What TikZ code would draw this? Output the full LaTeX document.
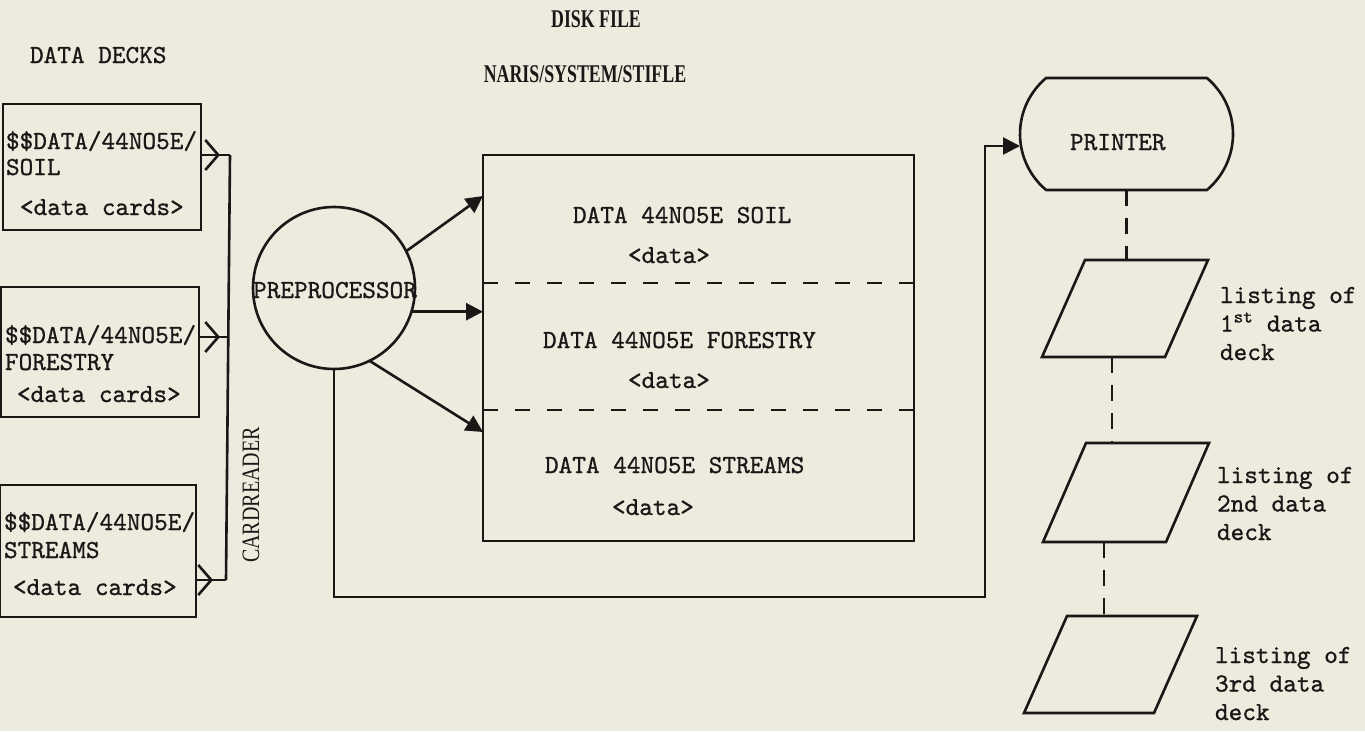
\documentclass[tikz,border=0pt]{standalone}
\usepackage{fontspec}
\usepackage{graphicx}
\usetikzlibrary{arrows.meta,shapes.geometric,shapes.misc}
\newfontfamily\hdrfont{Liberation Serif}
\newfontfamily\typer{lmmono10-regular}[Extension=.otf,FakeBold=0.9]
\definecolor{paper}{RGB}{236,235,222}
\definecolor{ink}{RGB}{28,22,22}
\newcommand\hdrtext[1]{\scalebox{0.7}[1]{\fontsize{25.5}{25.5}\selectfont\hdrfont\bfseries #1}}
\begin{document}
\begin{tikzpicture}[x=1pt,y=-1pt,
  every node/.style={inner sep=0pt,outer sep=0pt,text=ink},
  ln/.style={line width=2.6pt,draw=ink,line join=miter},
  tt/.style={font=\fontsize{26}{28.5}\selectfont\typer},
  lbl/.style={tt,anchor=base west},
  deck/.style={ln,draw,rectangle,minimum width=198pt,minimum height=126pt},
  tri/.style={-{Triangle[length=17pt,width=17pt]}},
  barb/.style={-{Straight Barb[length=13pt,width=30pt]}},
  divline/.style={line width=2.4pt,draw=ink,dash pattern=on 15pt off 17pt},
  vdash/.style={line width=2.4pt,draw=ink,dash pattern=on 16pt off 12pt},
  listing/.style={rectangle,minimum height=97pt,minimum width=166pt},
]
\fill[paper] (0,0) rectangle (1365,731);
\useasboundingbox (0,0) rectangle (1365,731);

% headers
\node[anchor=base] (dfile) at (596,27) {\hdrtext{DISK FILE}};
\node[anchor=base] (naris) at (585,82) {\hdrtext{NARIS/SYSTEM/STIFLE}};
\node[lbl] (decks) at (30,63) {DATA DECKS};

% data decks
\node[deck] (b1) at (102,167) {};
\node[deck,minimum height=130pt] (b2) at (100,352) {};
\node[deck,minimum width=196pt,minimum height=132pt] (b3) at (98,551) {};
\node[lbl] (b1a) at (6,149) {\$\$DATA/44NO5E/};
\node[lbl] (b1b) at (6,175) {SOIL};
\node[lbl] (b1c) at (20,215) {<data cards>};
\node[lbl] (b2a) at (5,343) {\$\$DATA/44NO5E/};
\node[lbl] (b2b) at (5,370) {FORESTRY};
\node[lbl] (b2c) at (17,402) {<data cards>};
\node[lbl] (b3a) at (4,530) {\$\$DATA/44NO5E/};
\node[lbl] (b3b) at (4,558) {STREAMS};
\node[lbl] (b3c) at (13,595) {<data cards>};

% card reader bus
\coordinate (bt) at (230,155);
\coordinate (bm) at (228,337);
\coordinate (bb) at (226,580);
\draw[ln] (bt) -- (bb);
\draw[ln] (b1.east |- bt) -- (bt);
\draw[ln] (b2.east |- bm) -- (bm);
\draw[ln] (b3.east |- bb) -- (bb);
\draw[ln,barb] (b1.east |- bt) -- ++(19,0);
\draw[ln,barb] (b2.east |- bm) -- ++(21,0);
\draw[ln,barb] (b3.east |- bb) -- ++(17,0);
\node[rotate=90] (card) at (251,495) {\scalebox{0.8}[1]{\fontsize{25}{25}\selectfont\hdrfont CARDREADER}};

% preprocessor
\node[ln,draw,circle,minimum size=162pt] (pre) at (334,288) {};
\node[tt,anchor=base] (pretext) at (335,298) {PREPROCESSOR};

% disk file
\node[ln,draw,minimum width=431pt,minimum height=386pt] (disk) at (698.5,348) {};
\draw[divline] (disk.west |- 0,283) -- (disk.east |- 0,283);
\draw[divline] (disk.west |- 0,410) -- (disk.east |- 0,410);
\node[lbl] (d1a) at (573,223) {DATA 44NO5E SOIL};
\node[lbl] (d1b) at (628,263) {<data>};
\node[lbl] (d2a) at (543,348) {DATA 44NO5E FORESTRY};
\node[lbl] (d2b) at (628,388) {<data>};
\node[lbl] (d3a) at (545,473) {DATA 44NO5E STREAMS};
\node[lbl] (d3b) at (612,515) {<data>};

\draw[ln,tri] (pre.27) -- (disk.west |- 0,196);
\draw[ln,tri] (pre.-17) -- (disk.west |- pre.-17);
\draw[ln,tri] (pre.-64) -- (disk.west |- 0,432);

% printer
\node[ln,draw,rounded rectangle,rounded rectangle arc length=100,minimum width=213pt,minimum height=112pt] (printer) at (1126.5,134) {};
\node[lbl] (prtext) at (1070,150) {PRINTER};
\draw[ln,tri] (pre.south) -- (pre.south |- 0,597) -| (985,146) -- (printer.west |- 0,146);

% listings
\node[listing] (p1) at (1125,308.5) {};
\node[listing,minimum height=99pt] (p2) at (1126,492.5) {};
\node[listing,minimum width=173pt] (p3) at (1110.5,664.5) {};
\foreach \p in {p1,p2,p3}{
  \draw[ln] (\p.south west) -- ([shift={(43,0)}]\p.north west) -- (\p.north east) -- ([shift={(-43,0)}]\p.south east) -- cycle;
}
\draw[vdash] (printer.south) -- (printer.south |- p1.north);
\draw[vdash] ([shift={(-13,0)}]p1.south) -- ([shift={(-13,0)}]p1.south |- p2.north);
\draw[vdash] ([shift={(-22,0)}]p2.south) -- ([shift={(-22,0)}]p2.south |- p3.north);

\node[lbl] (l1) at (1220,303) {\begin{tabular}[t]{@{}l@{}}listing of\\1\textsuperscript{st} data\\deck\end{tabular}};
\node[lbl] (l2) at (1217,483) {\begin{tabular}[t]{@{}l@{}}listing of\\2nd data\\deck\end{tabular}};
\node[lbl] (l3) at (1215,663) {\begin{tabular}[t]{@{}l@{}}listing of\\3rd data\\deck\end{tabular}};
\end{tikzpicture}
\end{document}
